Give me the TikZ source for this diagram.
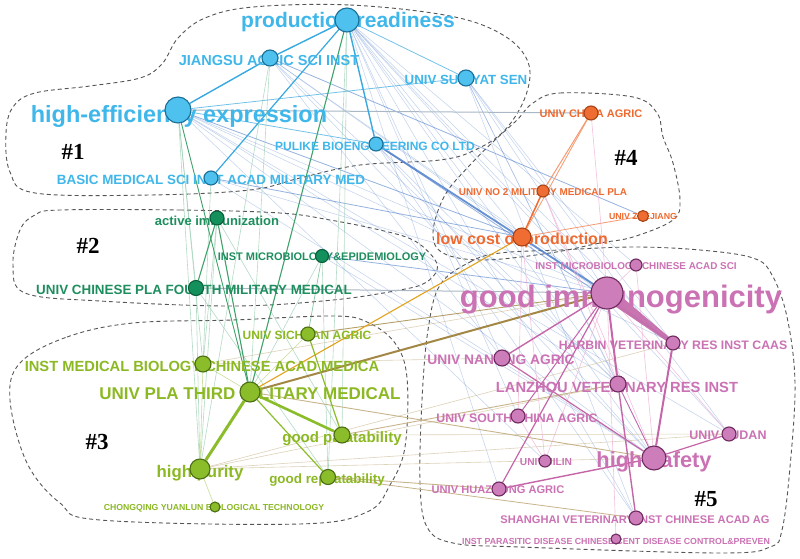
\documentclass[tikz,border=0pt]{standalone}
\usepackage{fontspec}
\setmainfont{Liberation Sans}
\newfontfamily\hashfont{Liberation Serif}
\usetikzlibrary{calc}
\pgfdeclarelayer{bg}
\pgfdeclarelayer{lbl}
\pgfsetlayers{bg,lbl,main}
\definecolor{cbF}{HTML}{4FC1EE}\definecolor{cbD}{HTML}{1B6E95}\definecolor{cbT}{HTML}{3FB7EA}
\definecolor{cgF}{HTML}{13905C}\definecolor{cgD}{HTML}{0B5E3A}\definecolor{cgT}{HTML}{1E8E5E}
\definecolor{cyF}{HTML}{8BBD2A}\definecolor{cyD}{HTML}{4B6E14}\definecolor{cyT}{HTML}{8CB923}
\definecolor{coF}{HTML}{EF6D33}\definecolor{coD}{HTML}{A84415}\definecolor{coT}{HTML}{EE6A30}
\definecolor{cpF}{HTML}{CC7DBA}\definecolor{cpD}{HTML}{6E2A5E}\definecolor{cpT}{HTML}{CB72B4}
\definecolor{enavy}{HTML}{4F7FCB}\definecolor{eblue}{HTML}{38A9E0}\definecolor{egreen}{HTML}{3FA36B}
\definecolor{egold}{HTML}{E2A21C}\definecolor{ebrown}{HTML}{A38845}\definecolor{etan}{HTML}{C8B48A}
\definecolor{epink}{HTML}{C466A8}\definecolor{elpink}{HTML}{EFB3D6}\definecolor{egray}{HTML}{A9B8C4}
\definecolor{hullc}{HTML}{555555}
\newcommand\lblfs[1]{\fontsize{#1}{#1}\selectfont\bfseries}
\tikzset{
  nd/.style={circle, inner sep=0pt, line width=1.1pt},
  bn/.style={nd, fill=cbF, draw=cbD},
  gn/.style={nd, fill=cgF, draw=cgD},
  yn/.style={nd, fill=cyF, draw=cyD},
  on/.style={nd, fill=coF, draw=coD},
  pn/.style={nd, fill=cpF, draw=cpD},
  lab/.style={inner sep=0pt},
  hull/.style={draw=hullc, line width=0.9pt, dash pattern=on 4pt off 3pt},
  fn/.style={draw=enavy, line width=0.5pt, opacity=0.35},
  mn/.style={draw=enavy, line width=0.8pt, opacity=0.6},
  eb/.style={draw=eblue, line width=1.4pt},
  lbe/.style={draw=eblue, line width=0.8pt, opacity=0.7},
  eg/.style={draw=egreen, line width=1.1pt},
  lg/.style={draw=egreen!55, line width=0.6pt, opacity=0.7},
  ey/.style={draw=cyF, line width=1.2pt},
  ly/.style={draw=cyF!60, line width=0.6pt, opacity=0.8},
  tan/.style={draw=etan, line width=0.9pt},
  ltan/.style={draw=etan, line width=0.6pt, opacity=0.6},
  eo/.style={draw=coF, line width=1.5pt},
  lo/.style={draw=coF!70, line width=0.8pt},
  ep/.style={draw=epink, line width=1.3pt},
  lp/.style={draw=elpink, line width=0.6pt, opacity=0.8},
  hashlab/.style={inner sep=0pt, font=\hashfont\bfseries\fontsize{23}{23}\selectfont}
}
\begin{document}
\begin{tikzpicture}[x=1pt,y=-1pt]
\useasboundingbox (0,0) rectangle (800,559);
% ---- nodes (circles) ----
\node[bn, minimum size=24pt] (pr) at (347,20) {};
\node[bn, minimum size=16pt] (js) at (270,58) {};
\node[bn, minimum size=16pt] (sys) at (466,78) {};
\node[bn, minimum size=26pt] (he) at (178,110) {};
\node[bn, minimum size=14pt] (pk) at (376,144) {};
\node[bn, minimum size=14pt] (bm) at (211,178) {};
\node[on, minimum size=14pt] (ca) at (591,113) {};
\node[on, minimum size=12pt] (n2) at (543,191) {};
\node[on, minimum size=11pt] (zj) at (643,216) {};
\node[on, minimum size=18pt] (lc) at (522,237) {};
\node[gn, minimum size=14pt] (ai) at (217,218) {};
\node[gn, minimum size=13pt] (me) at (322,256) {};
\node[gn, minimum size=15pt] (fm) at (196,288) {};
\node[yn, minimum size=14pt] (sc) at (308,334) {};
\node[yn, minimum size=16pt] (mb) at (203,364) {};
\node[yn, minimum size=20pt] (tm) at (250,392) {};
\node[yn, minimum size=16pt] (gp) at (342,435) {};
\node[yn, minimum size=20pt] (hp) at (200,469) {};
\node[yn, minimum size=15pt] (gr) at (328,477) {};
\node[yn, minimum size=10pt] (cq) at (215,507) {};
\node[pn, minimum size=12pt] (mc) at (636,265) {};
\node[pn, minimum size=32pt] (gi) at (607,293) {};
\node[pn, minimum size=14pt] (hb) at (673,343) {};
\node[pn, minimum size=16pt] (nj) at (502,358) {};
\node[pn, minimum size=16pt] (lz) at (618,384) {};
\node[pn, minimum size=14pt] (sca) at (518,416) {};
\node[pn, minimum size=12pt] (jl) at (545,461) {};
\node[pn, minimum size=24pt] (hs) at (654,458) {};
\node[pn, minimum size=14pt] (fd) at (729,434) {};
\node[pn, minimum size=14pt] (hz) at (499,489) {};
\node[pn, minimum size=14pt] (sh) at (636,518) {};
\node[pn, minimum size=10pt] (ps) at (616,539) {};
% ---- background: hulls and edges ----
\begin{pgfonlayer}{bg}
\fill[white] (0,0) rectangle (800,559);
\draw[hull] plot[smooth cycle, tension=0.6] coordinates {(253,7) (350,5) (450,16) (503,35) (528,62) (526,95) (505,130) (475,150) (440,160) (360,165) (300,178) (250,190) (150,195) (35,193) (10,172) (6,133) (13,107) (35,93) (90,86) (140,78) (162,64) (178,38) (205,18)};
\draw[hull] plot[smooth cycle, tension=0.6] coordinates {(60,210) (180,210) (280,213) (330,220) (380,230) (413,240) (433,257) (437,270) (425,283) (400,290) (333,300) (233,306) (100,301) (25,293) (13,265) (20,230) (35,215)};
\draw[hull] plot[smooth cycle, tension=0.6] coordinates {(20,363) (67,337) (133,323) (233,320) (333,316) (367,322) (395,343) (407,378) (405,447) (390,485) (367,512) (300,524) (100,520) (60,503) (27,463) (10,400)};
\draw[hull] plot[smooth cycle, tension=0.6] coordinates {(533,103) (560,93) (633,97) (657,113) (663,137) (673,163) (680,200) (673,220) (633,237) (600,243) (550,253) (483,260) (443,253) (433,232) (445,195) (470,165) (495,140) (517,120)};
\draw[hull] plot[smooth cycle, tension=0.6] coordinates {(440,285) (470,262) (500,253) (560,250) (633,247) (700,250) (753,258) (772,275) (787,317) (795,383) (790,467) (782,530) (770,547) (720,553) (520,547) (453,543) (427,527) (420,483) (422,400) (428,330)};
% faint navy lines
\foreach \a/\b in {pr/gi, pr/hb, pr/lz, pr/hs, pr/sh, pr/nj, pr/sca, pr/fd, pr/lc, pr/mc, pr/hz,
  he/gi, he/hb, he/lz, he/hs, he/fd, he/jl, js/gi, js/hs, js/lz, js/nj, js/hb,
  pk/lz, pk/hs, pk/sh, bm/gi, bm/hs, sys/hb, sys/hs, sys/gi, sys/lz, sys/fd, me/hs, sys/sh}
  \draw[fn] (\a) -- (\b);
\foreach \a/\b in {he/lc, js/zj, bm/lc, me/gi, pk/hb}
  \draw[mn] (\a) -- (\b);
\draw[draw=egray, line width=1pt] (he) -- (ca);
\draw[draw=egray, line width=1pt] (fm) -- (gi);
% blue cluster
\draw[eb] (pr) -- (js);
\draw[eb] (js) -- (he);
\draw[eb, line width=1.2pt] (pr) -- (bm);
\draw[eb] (pr) -- (pk);
\draw[lbe] (pr) -- (sys);
\draw[lbe] (he) -- (sys);
\draw[lbe] (he) -- (pk);
\draw[draw=enavy, line width=1.8pt, opacity=0.85] (pk) -- (gi);
% green cluster
\foreach \a/\b in {js/tm, js/hp, ai/gp, fm/gr, ai/hp, me/tm, fm/hp, he/fm, mb/he, he/hp, pr/gp, pr/gr, bm/mb, me/gr, ai/mb}
  \draw[lg] (\a) -- (\b);
\draw[eg] (ai) -- (fm);
\draw[eg] (ai) -- (tm);
\draw[eg] (pr) -- (tm);
\draw[eg, line width=0.9pt] (he) -- (tm);
\draw[eg, line width=0.7pt, opacity=0.6] (me) -- (sc);
% cross edges from yellow-green
\foreach \a/\b in {hp/hb, hp/fd, hp/hs, mb/nj, gp/fd, hp/lz, mb/gi}
  \draw[ltan] (\a) -- (\b);
\draw[tan] (tm) -- (hs);
\draw[tan] (gp) -- (lz);
\draw[tan] (gr) -- (hz);
\draw[tan, line width=0.8pt] (gr) -- (sh);
\draw[tan, draw=ebrown!80] (sc) -- (gi);
\draw[draw=ebrown, line width=2pt] (tm) -- (gi);
\draw[draw=egold, line width=1.1pt] (tm) -- (lc);
% yellow-green cluster
\draw[ly] (hp) -- (cq);
\draw[ly] (tm) -- (mb);
\draw[ly] (hp) -- (mb);
\draw[ly] (sc) -- (tm);
\draw[ey, line width=3pt] (tm) -- (hp);
\draw[ey, line width=2.6pt] (tm) -- (gp);
\draw[ey] (tm) -- (gr);
\draw[ey] (sc) -- (gp);
% orange cluster
\draw[eo] (lc) -- (n2);
\draw[lo] (lc) -- (ca);
\draw[lo, line width=1pt] (n2) -- (ca);
\draw[lo] (lc) -- (zj);
% pink cluster
\foreach \a/\b in {ca/gi, lc/jl, n2/lz, mc/hs, gi/jl, ps/gi, lc/sca, n2/hs, mc/gi, gi/fd, sca/jl}
  \draw[lp] (\a) -- (\b);
\fill[epink, opacity=0.9] ($(gi.center)!6.5pt!90:(hb.center)$) -- ($(gi.center)!6.5pt!-90:(hb.center)$) -- ($(hb.center)!2pt!90:(gi.center)$) -- ($(hb.center)!2pt!-90:(gi.center)$) -- cycle;
\draw[ep, line width=2pt] (gi) -- (lz);
\draw[ep, line width=1.4pt] (gi) -- (nj);
\draw[ep, line width=1.2pt] (gi) -- (hz);
\draw[ep, line width=1pt] (gi) -- (sca);
\draw[ep, line width=2pt] (hb) -- (hs);
\draw[ep, line width=1.4pt] (lz) -- (sh);
\draw[ep, line width=1.2pt] (nj) -- (hs);
\draw[ep, line width=1.2pt] (hs) -- (fd);
\draw[ep, line width=1.4pt] (hs) -- (hz);
\draw[ep, line width=0.8pt] (lz) -- (hs);
\end{pgfonlayer}
% ---- labels ----
\begin{pgfonlayer}{lbl}
\node[lab, text=cbT, font={\lblfs{21}}] (l-pr) at (348,22) {production readiness};
\node[lab, text=cbT, font={\lblfs{14.5}}] (l-js) at (269,61) {JIANGSU AGRIC SCI INST};
\node[lab, text=cbT, font={\lblfs{13.3}}] (l-sys) at (466,80) {UNIV SUN YAT SEN};
\node[lab, text=cbT, font={\lblfs{23.5}}] (l-he) at (179,116) {high-efficiency expression};
\node[lab, text=cbT, font={\lblfs{12}}] (l-pk) at (375,146) {PULIKE BIOENGINEERING CO LTD};
\node[lab, text=cbT, font={\lblfs{13.4}}] (l-bm) at (211,180) {BASIC MEDICAL SCI INST ACAD MILITARY MED};
\node[lab, text=coT, font={\lblfs{11}}] (l-ca) at (591,114) {UNIV CHINA AGRIC};
\node[lab, text=coT, font={\lblfs{9.9}}] (l-n2) at (543,192) {UNIV NO 2 MILITARY MEDICAL PLA};
\node[lab, text=coT, font={\lblfs{8.8}}] (l-zj) at (643,216) {UNIV ZHEJIANG};
\node[lab, text=coT, font={\lblfs{16}}] (l-lc) at (522,240) {low cost of production};
\node[lab, text=cgT, font={\lblfs{13}}] (l-ai) at (217,221) {active immunization};
\node[lab, text=cgT, font={\lblfs{11}}] (l-me) at (322,257) {INST MICROBIOLOGY\&EPIDEMIOLOGY};
\node[lab, text=cgT, font={\lblfs{13.4}}] (l-fm) at (194,290) {UNIV CHINESE PLA FOURTH MILITARY MEDICAL};
\node[lab, text=cyT, font={\lblfs{12}}] (l-sc) at (307,335) {UNIV SICHUAN AGRIC};
\node[lab, text=cyT, font={\lblfs{14.7}}] (l-mb) at (202,366) {INST MEDICAL BIOLOGY CHINESE ACAD MEDICA};
\node[lab, text=cyT, font={\lblfs{17}}] (l-tm) at (250,394) {UNIV PLA THIRD MILITARY MEDICAL};
\node[lab, text=cyT, font={\lblfs{15}}] (l-gp) at (342,439) {good palatability};
\node[lab, text=cyT, font={\lblfs{16.8}}] (l-hp) at (200,473) {high purity};
\node[lab, text=cyT, font={\lblfs{13.4}}] (l-gr) at (327,480) {good repeatability};
\node[lab, text=cyT, font={\lblfs{8.7}}] (l-cq) at (214,508) {CHONGQING YUANLUN BIOLOGICAL TECHNOLOGY};
\node[lab, text=cpT, font={\lblfs{9.9}}] (l-mc) at (636,266) {INST MICROBIOLOGY CHINESE ACAD SCI};
\node[lab, text=cpT, font={\lblfs{31}}] (l-gi) at (621,300) {good immunogenicity};
\node[lab, text=cpT, font={\lblfs{12.3}}] (l-hb) at (673,345) {HARBIN VETERINARY RES INST CAAS};
\node[lab, text=cpT, font={\lblfs{13.8}}] (l-nj) at (501,360) {UNIV NANJING AGRIC};
\node[lab, text=cpT, font={\lblfs{14.7}}] (l-lz) at (617,387) {LANZHOU VETERINARY RES INST};
\node[lab, text=cpT, font={\lblfs{12.3}}] (l-sca) at (517,418) {UNIV SOUTH CHINA AGRIC};
\node[lab, text=cpT, font={\lblfs{10.2}}] (l-jl) at (546,462) {UNIV JILIN};
\node[lab, text=cpT, font={\lblfs{21.8}}] (l-hs) at (654,462) {high safety};
\node[lab, text=cpT, font={\lblfs{12.5}}] (l-fd) at (728,435) {UNIV FUDAN};
\node[lab, text=cpT, font={\lblfs{11.1}}] (l-hz) at (498,490) {UNIV HUAZHONG AGRIC};
\node[lab, text=cpT, font={\lblfs{11.1}}] (l-sh) at (635,520) {SHANGHAI VETERINARY INST CHINESE ACAD AG};
\node[lab, text=cpT, font={\lblfs{8.8}}] (l-ps) at (616,541) {INST PARASITIC DISEASE CHINESE CENT DISEASE CONTROL\&PREVEN};
\node[hashlab] (h1) at (73,152) {\#1};
\node[hashlab] (h2) at (88,246) {\#2};
\node[hashlab] (h3) at (97,442) {\#3};
\node[hashlab] (h4) at (626,158) {\#4};
\node[hashlab] (h5) at (706,499) {\#5};
\end{pgfonlayer}
\end{tikzpicture}
\end{document}
